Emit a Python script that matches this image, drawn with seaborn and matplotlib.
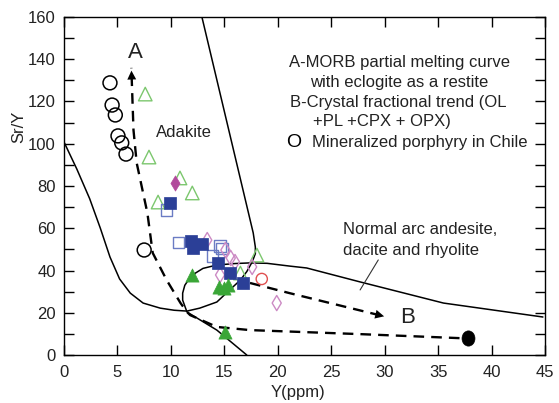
import numpy as np
import matplotlib
matplotlib.use("Agg")
import matplotlib.pyplot as plt
from matplotlib.path import Path
from matplotlib.markers import MarkerStyle
from matplotlib.ticker import MultipleLocator
import seaborn as sns

# ---- sample groups: Y (ppm) vs Sr/Y ----
chile_y = [4.3, 4.5, 4.8, 5.05, 5.4, 5.8, 7.5]
chile_sry = [128.8, 118.3, 113.6, 103.7, 100.4, 95.1, 49.7]

tri_open_y = [7.6, 7.95, 10.85, 12.0, 8.8, 18.05, 16.5]
tri_open_sry = [123.5, 93.7, 83.8, 76.7, 72.4, 47.3, 38.8]

tri_fill_y = [12.0, 14.5, 15.3, 15.0, 15.1]
tri_fill_sry = [37.9, 32.0, 33.0, 31.5, 10.9]

sq_fill_y = [9.9, 11.9, 12.1, 12.9, 14.4, 15.5, 16.7]
sq_fill_sry = [72.0, 54.0, 50.5, 52.5, 43.5, 38.8, 34.1]

sq_open_y = [9.6, 10.7, 14.6, 13.9, 14.8]
sq_open_sry = [68.6, 53.2, 51.5, 46.8, 50.5]

dia_fill_y = [10.4]
dia_fill_sry = [81.4]

dia_open_y = [13.4, 15.1, 15.6, 16.0, 17.6, 14.6, 19.9]
dia_open_sry = [54.4, 49.7, 45.9, 44.0, 41.7, 37.9, 24.6]

red_y = [18.5]
red_sry = [36.0]

end_y = [37.8]
end_sry = [8.0]

# ---- field boundaries ----
adakite_x = [0.0, 1.2, 2.4, 3.4, 4.3, 5.2, 6.2, 7.4, 9.0, 10.3, 11.5, 12.7, 14.3,
             15.5, 16.5, 17.1, 17.6, 17.9, 17.9, 17.7, 12.9]
adakite_y = [100.8, 88.0, 74.0, 60.0, 46.4, 36.0, 29.3, 24.6, 22.2, 21.2, 20.8, 22.2, 25.1,
             30.8, 35.5, 39.5, 44.0, 48.0, 51.1, 57.8, 160.0]

arc_x = [17.1, 14.3, 11.5, 11.1, 11.1, 11.3, 11.7, 12.3, 13.0, 14.3, 16.0, 17.4, 19.0,
         21.1, 22.7, 27.7, 35.5, 44.8]
arc_y = [0.0, 11.8, 20.4, 26.0, 29.3, 33.0, 36.0, 38.8, 41.0, 42.6, 43.3, 43.6, 43.4,
         42.1, 41.2, 34.6, 24.6, 18.0]

# curve A (MORB partial melting) and its continuation to the end member
curveA_x = [37.0, 27.7, 17.4, 14.3, 11.8, 11.5, 10.9, 9.6, 8.3, 7.8, 6.8, 6.5, 6.3]
curveA_y = [8.0, 9.9, 11.8, 13.3, 18.9, 20.4, 24.6, 35.5, 48.3, 67.2, 90.9, 106.5, 135.9]

# trend B (crystal fractionation)
trendB_x = [17.4, 21.1, 30.2]
trendB_y = [34.1, 29.3, 18.0]

leader_x = [29.4, 27.7]
leader_y = [45.0, 30.8]

sns.set_theme(style="ticks")
plt.rcParams["font.family"] = ["Liberation Sans", "DejaVu Sans"]

fig = plt.figure(figsize=(5.59, 4.03), dpi=100)
ax = fig.add_axes([0.1145, 0.119, 0.8605, 0.839])

# field boundaries
ax.plot(adakite_x, adakite_y, color="black", lw=1.1)
ax.plot(arc_x, arc_y, color="black", lw=1.1)
ax.plot(leader_x, leader_y, color="#333333", lw=0.8)

# dashed trends
dash = dict(color="black", lw=1.7, ls=(0, (4.5, 3)))
ax.plot(curveA_x, curveA_y, **dash)
ax.plot(trendB_x, trendB_y, **dash)
head = dict(arrowstyle="-|>", color="black", lw=0, mutation_scale=16)
ax.annotate("", xy=(curveA_x[-1], curveA_y[-1]), xytext=(curveA_x[-2], curveA_y[-2]), arrowprops=head)
ax.annotate("", xy=(trendB_x[-1], trendB_y[-1]), xytext=(trendB_x[-2], trendB_y[-2]), arrowprops=head)

# samples
green_o = "#7cc76e"
green_f = "#3aa637"
blue_f = "#2b3f97"
blue_o = "#6b7cc4"
mag_f = "#b24a9c"
mag_o = "#cc8ac4"

sns.scatterplot(x=tri_open_y, y=tri_open_sry, marker="^", s=95, color=green_o,
                facecolor="none", edgecolor=green_o, linewidth=1.0, ax=ax, zorder=3)
sns.scatterplot(x=sq_open_y, y=sq_open_sry, marker="s", s=70, color=blue_o,
                facecolor="none", edgecolor=blue_o, linewidth=1.0, ax=ax, zorder=3)
sns.scatterplot(x=dia_open_y, y=dia_open_sry, marker="d", s=60, color=mag_o,
                facecolor="none", edgecolor=mag_o, linewidth=1.0, ax=ax, zorder=3)
sns.scatterplot(x=sq_fill_y, y=sq_fill_sry, marker="s", s=75, color=blue_f,
                edgecolor=blue_f, linewidth=0.5, ax=ax, zorder=4)
sns.scatterplot(x=tri_fill_y, y=tri_fill_sry, marker="^", s=90, color=green_f,
                edgecolor=green_f, linewidth=0.5, ax=ax, zorder=4)
sns.scatterplot(x=dia_fill_y, y=dia_fill_sry, marker="d", s=60, color=mag_f,
                edgecolor=mag_f, linewidth=0.5, ax=ax, zorder=4)
sns.scatterplot(x=red_y, y=red_sry, marker="o", s=65, color="#e05050",
                facecolor="none", edgecolor="#e05050", linewidth=1.0, ax=ax, zorder=4)
sns.scatterplot(x=chile_y, y=chile_sry, marker="o", s=100, color="black",
                facecolor="none", edgecolor="black", linewidth=1.1, ax=ax, zorder=4)

circ = Path.unit_circle()
ell = Path(circ.vertices * np.array([0.85, 1.0]), circ.codes)
sns.scatterplot(x=end_y, y=end_sry, marker=MarkerStyle(ell), s=120, color="black",
                edgecolor="black", linewidth=0.5, ax=ax, zorder=4)

# labels
txt = dict(fontsize=12, color="#222222")
ax.text(6.7, 143.4, "A", fontsize=16, ha="center", va="center", color="#222222")
ax.text(32.1, 18.0, "B", fontsize=16, ha="center", va="center", color="#222222")
ax.text(8.6, 105.1, "Adakite", ha="left", va="center", **txt)
ax.text(26.1, 59.2, "Normal arc andesite,", ha="left", va="center", **txt)
ax.text(26.1, 49.7, "dacite and rhyolite", ha="left", va="center", **txt)
ax.text(31.4, 138.6, "A-MORB partial melting curve", ha="center", va="center", **txt)
ax.text(31.4, 129.2, "with eclogite as a restite", ha="center", va="center", **txt)
ax.text(31.3, 119.3, "B-Crystal fractional trend (OL", ha="center", va="center", **txt)
ax.text(23.3, 110.3, "+PL +CPX + OPX)", ha="left", va="center", **txt)
ax.text(21.5, 100.6, "O", fontsize=14, ha="center", va="center", color="black")
ax.text(23.2, 100.4, "Mineralized porphyry in Chile", ha="left", va="center", **txt)

ax.set_xlim(0, 45)
ax.set_ylim(0, 160)
ax.xaxis.set_major_locator(MultipleLocator(5))
ax.yaxis.set_major_locator(MultipleLocator(20))
ax.yaxis.set_minor_locator(MultipleLocator(10))
ax.tick_params(which="both", direction="in", top=True, right=True, length=7,
               width=1.0, color="black", labelsize=12, labelcolor="#222222")
ax.tick_params(axis="x", pad=7)
ax.tick_params(axis="y", pad=6)
for s in ax.spines.values():
    s.set_color("black")
    s.set_linewidth(1.0)

ax.set_xlabel("Y(ppm)", fontsize=12, color="#222222")
ax.set_ylabel("Sr/Y", fontsize=12, color="#222222")
ax.xaxis.set_label_coords(0.487, -0.09)
ax.yaxis.set_label_coords(-0.078, 0.675)

fig.savefig("out.png", dpi=100)
